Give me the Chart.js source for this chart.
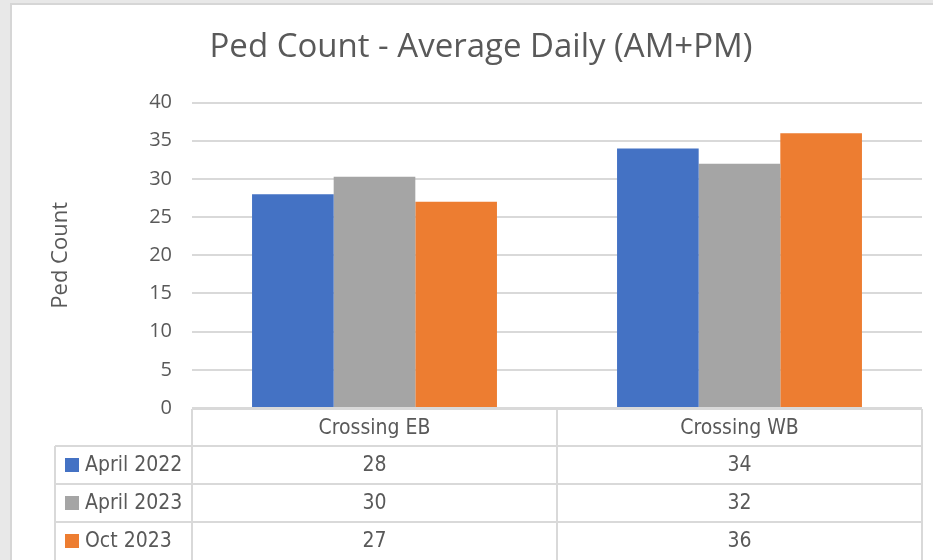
<!DOCTYPE html>
<html>
<head>
<meta charset="utf-8">
<script src="https://cdn.jsdelivr.net/npm/chart.js@4.4.1/dist/chart.umd.min.js"></script>
<style>
  html, body { margin: 0; padding: 0; background: #e8e8e8; }
  #wrap { width: 933px; height: 560px; }
</style>
</head>
<body>
<div id="wrap"><canvas id="pedChart" width="933" height="560"></canvas></div>
<script>
// Data
const categories = ['Crossing EB', 'Crossing WB'];
const seriesNames = ['April 2022', 'April 2023', 'Oct 2023'];
const april2022 = [28, 34];
const april2023 = [30.3, 32];
const oct2023 = [27, 36];
const yTicks = [0, 5, 10, 15, 20, 25, 30, 35, 40];

const seriesColors = ['#4472c4', '#a5a5a5', '#ed7d31'];
const textColor = '#595959';
const lineColor = '#d9d9d9';
const tableFont = "'DejaVu Sans Condensed', sans-serif";

// gray page + white chart box
const backgroundPlugin = {
    id: 'pageBackground',
    beforeDraw(chart) {
        const ctx = chart.ctx;
        ctx.save();
        ctx.fillStyle = '#e8e8e8';
        ctx.fillRect(0, 0, chart.width, chart.height);
        ctx.fillStyle = '#d6d6d6';
        ctx.fillRect(10, 3, chart.width - 10, chart.height - 3);
        ctx.fillStyle = '#ffffff';
        ctx.fillRect(12, 5, chart.width - 12, chart.height - 5);
        ctx.restore();
    }
};

// Excel style data table under the plot
const dataTablePlugin = {
    id: 'dataTable',
    afterDraw(chart) {
        const ctx = chart.ctx;
        const area = chart.chartArea;
        const xs = chart.scales.x;
        const top = area.bottom + 1;
        const headH = 37;
        const rowH = 38;
        const legLeft = 55;
        const bottom = chart.height;
        const mid = (xs.getPixelForValue(0) + xs.getPixelForValue(1)) / 2;

        ctx.save();
        ctx.strokeStyle = lineColor;
        ctx.lineWidth = 2;
        const line = (x1, y1, x2, y2) => {
            ctx.beginPath();
            ctx.moveTo(x1, y1);
            ctx.lineTo(x2, y2);
            ctx.stroke();
        };
        line(area.left, top, area.right, top);
        for (let r = 0; r < seriesNames.length; r++) {
            const y = top + headH + r * rowH;
            line(legLeft, y, area.right, y);
        }
        line(area.left, top, area.left, bottom);
        line(mid, top, mid, bottom);
        line(area.right, top, area.right, bottom);
        line(legLeft, top + headH, legLeft, bottom);

        ctx.fillStyle = textColor;
        ctx.font = "21px " + tableFont;
        ctx.textBaseline = 'middle';
        ctx.textAlign = 'center';
        chart.data.labels.forEach((lab, i) => {
            ctx.fillText(lab, xs.getPixelForValue(i), top + headH / 2 + 1);
        });

        chart.data.datasets.forEach((ds, d) => {
            const cy = top + headH + d * rowH + rowH / 2 + 1;
            ds.data.forEach((v, i) => {
                ctx.fillStyle = textColor;
                ctx.textAlign = 'center';
                ctx.fillText(Math.round(v).toString(), xs.getPixelForValue(i), cy);
            });
            ctx.fillStyle = ds.backgroundColor;
            ctx.fillRect(65, cy - 8, 14, 14);
            ctx.fillStyle = textColor;
            ctx.textAlign = 'left';
            ctx.fillText(ds.label, 85, cy);
        });
        ctx.restore();
    }
};

const ctx = document.getElementById('pedChart').getContext('2d');
new Chart(ctx, {
    type: 'bar',
    data: {
        labels: categories,
        datasets: [
            { label: seriesNames[0], data: april2022, backgroundColor: seriesColors[0] },
            { label: seriesNames[1], data: april2023, backgroundColor: seriesColors[1] },
            { label: seriesNames[2], data: oct2023, backgroundColor: seriesColors[2] }
        ]
    },
    options: {
        responsive: false,
        animation: false,
        devicePixelRatio: 1,
        datasets: {
            bar: { categoryPercentage: 0.671, barPercentage: 1.0, borderWidth: 0 }
        },
        layout: { padding: { left: 40, right: 11, top: 5, bottom: 0 } },
        plugins: {
            legend: { display: false },
            tooltip: { enabled: false },
            title: {
                display: true,
                text: 'Ped Count - Average Daily (AM+PM)',
                color: textColor,
                font: { family: "'Open Sans', sans-serif", size: 33, weight: 'normal' },
                padding: { top: 23, bottom: 35 }
            }
        },
        scales: {
            x: {
                grid: { display: false },
                border: { display: false },
                ticks: { display: false },
                afterFit(scale) { scale.height = 152; }
            },
            y: {
                min: yTicks[0],
                max: yTicks[yTicks.length - 1],
                afterBuildTicks(scale) { scale.ticks = yTicks.map(v => ({ value: v })); },
                afterFit(scale) { scale.width = 152; },
                border: { display: false },
                grid: { color: lineColor, lineWidth: 2, drawTicks: false },
                ticks: {
                    color: textColor,
                    padding: 20,
                    font: { family: "'Open Sans', sans-serif", size: 20 }
                },
                title: {
                    display: true,
                    text: 'Ped Count',
                    color: textColor,
                    font: { family: "'Open Sans', sans-serif", size: 22 },
                    padding: { top: 8, bottom: 0 }
                }
            }
        }
    },
    plugins: [backgroundPlugin, dataTablePlugin]
});
</script>
</body>
</html>
